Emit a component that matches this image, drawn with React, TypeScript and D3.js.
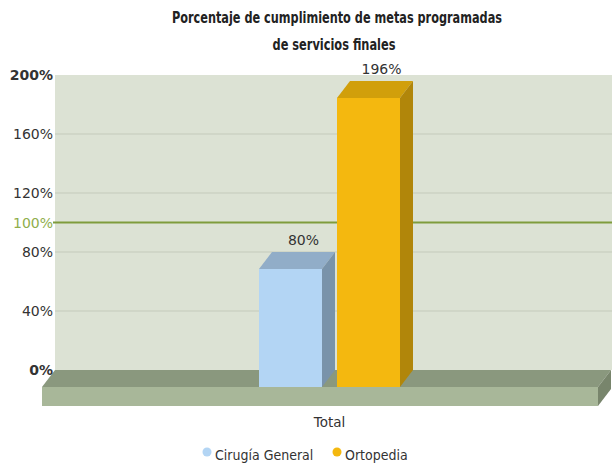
import React, { useEffect, useRef } from 'react';
import * as d3 from 'd3';

const titleLines = ['Porcentaje de cumplimiento de metas programadas', 'de servicios finales'];
const categories = ['Total'];
const seriesNames = ['Cirugía General', 'Ortopedia'];
const seriesValues = [80, 196];
const tickValues = [0, 40, 80, 120, 160, 200];
const goalValue = 100;

const frontColors = ['#b3d5f4', '#f4b80f'];
const topColors = ['#91adc8', '#d19f0b'];
const sideColors = ['#7993aa', '#b1860a'];

const App = () => {
  const ref = useRef<SVGSVGElement | null>(null);

  useEffect(() => {
    if (!ref.current) return;
    const svg = d3.select(ref.current);
    svg.selectAll('*').remove();

    const W = 612;
    const dx = 13; // depth offset
    const dy = 17;
    const wallLeft = 55;
    const wallRight = 612;

    const y = d3.scaleLinear().domain([0, 200]).range([370, 75]);
    const x = d3.scaleBand().domain(categories).range([48, 611]);
    const inner = d3
      .scaleBand()
      .domain(seriesNames)
      .paddingInner(0.1923);

    // title
    const titleLen = [330, 123];
    const titleY = [23, 50];
    const titleX = [337, 334];
    titleLines.forEach((t, i) => {
      svg.append('text')
        .attr('x', titleX[i]).attr('y', titleY[i])
        .attr('text-anchor', 'middle')
        .style('font-family', 'DejaVu Sans Condensed, DejaVu Sans')
        .style('font-weight', 'bold')
        .style('font-size', '15px')
        .attr('textLength', titleLen[i])
        .attr('lengthAdjust', 'spacingAndGlyphs')
        .style('fill', '#222')
        .text(t);
    });

    // back wall
    svg.append('rect')
      .attr('x', wallLeft).attr('y', y(200))
      .attr('width', wallRight - wallLeft).attr('height', y(0) - y(200))
      .attr('fill', '#dce2d4');

    // grid
    svg.append('g')
      .selectAll('line')
      .data(tickValues.filter(t => t > 0 && t < 200))
      .enter()
      .append('line')
      .attr('x1', wallLeft).attr('x2', wallRight)
      .attr('y1', d => y(d)).attr('y2', d => y(d))
      .attr('stroke', '#c4cabb').attr('stroke-width', 1);

    // floor
    const y0 = y(0);
    const floorH = 19;
    const fr = 611;
    svg.append('polygon')
      .attr('points', [[wallLeft, y0], [fr, y0], [fr - dx, y0 + dy], [wallLeft - dx, y0 + dy]].join(' '))
      .attr('fill', '#8a987e');
    svg.append('rect')
      .attr('x', wallLeft - dx).attr('y', y0 + dy)
      .attr('width', fr - wallLeft).attr('height', floorH)
      .attr('fill', '#a8b799');
    svg.append('polygon')
      .attr('points', [[fr - dx, y0 + dy], [fr, y0], [fr, y0 + floorH], [fr - dx, y0 + dy + floorH]].join(' '))
      .attr('fill', '#78856c');

    // goal line
    svg.append('line')
      .attr('x1', 53).attr('x2', W)
      .attr('y1', y(goalValue)).attr('y2', y(goalValue))
      .attr('stroke', '#7f9c3c').attr('stroke-width', 2);

    // y labels
    const labels = tickValues.concat([goalValue]);
    svg.append('g')
      .selectAll('text')
      .data(labels)
      .enter()
      .append('text')
      .attr('x', 53)
      .attr('y', d => y(d))
      .attr('dy', '0.36em')
      .attr('text-anchor', 'end')
      .style('font-family', 'DejaVu Sans')
      .style('font-size', '14px')
      .style('font-weight', d => (d === 0 || d === 200 ? 'bold' : 'normal'))
      .style('fill', d => (d === goalValue ? '#8fae4c' : '#333'))
      .text(d => d + '%');

    // bars
    const cx = (x('Total') || 0) + x.bandwidth() / 2;
    inner.range([cx - 70.5, cx + 70.5]);
    const bw = inner.bandwidth();

    categories.forEach(cat => {
      seriesNames.forEach((s, i) => {
        const v = seriesValues[i];
        const x0 = inner(s) || 0;
        const yf = y(v) + dy;
        const yb = y0 + dy;
        const g = svg.append('g');
        g.append('rect')
          .attr('x', x0).attr('y', yf)
          .attr('width', bw).attr('height', yb - yf)
          .attr('fill', frontColors[i]);
        g.append('polygon')
          .attr('points', [[x0, yf], [x0 + dx, yf - dy], [x0 + bw + dx, yf - dy], [x0 + bw, yf]].join(' '))
          .attr('fill', topColors[i]);
        g.append('polygon')
          .attr('points', [[x0 + bw, yf], [x0 + bw + dx, yf - dy], [x0 + bw + dx, y0], [x0 + bw, yb]].join(' '))
          .attr('fill', sideColors[i]);
        g.append('text')
          .attr('x', x0 + bw / 2 + dx)
          .attr('y', y(v) - 7)
          .attr('text-anchor', 'middle')
          .style('font-family', 'DejaVu Sans')
          .style('font-size', '14px')
          .style('fill', '#333')
          .text(v + '%');
      });
      svg.append('text')
        .attr('x', cx)
        .attr('y', 427)
        .attr('text-anchor', 'middle')
        .style('font-family', 'DejaVu Sans')
        .style('font-size', '13.5px')
        .style('fill', '#333')
        .text(cat);
    });

    // legend
    const legendX = [207, 337];
    seriesNames.forEach((s, i) => {
      svg.append('circle')
        .attr('cx', legendX[i]).attr('cy', 452).attr('r', 4.5)
        .attr('fill', frontColors[i]);
      svg.append('text')
        .attr('x', legendX[i] + 8)
        .attr('y', 460)
        .style('font-family', 'DejaVu Sans Condensed, DejaVu Sans')
        .style('font-size', '14px')
        .style('fill', '#333')
        .text(s);
    });
  }, []);

  return (
    <svg
      ref={ref}
      width={612}
      height={464}
      style={{ position: 'absolute', left: 0, top: 0, background: '#fff' }}
    />
  );
};

export default App;
